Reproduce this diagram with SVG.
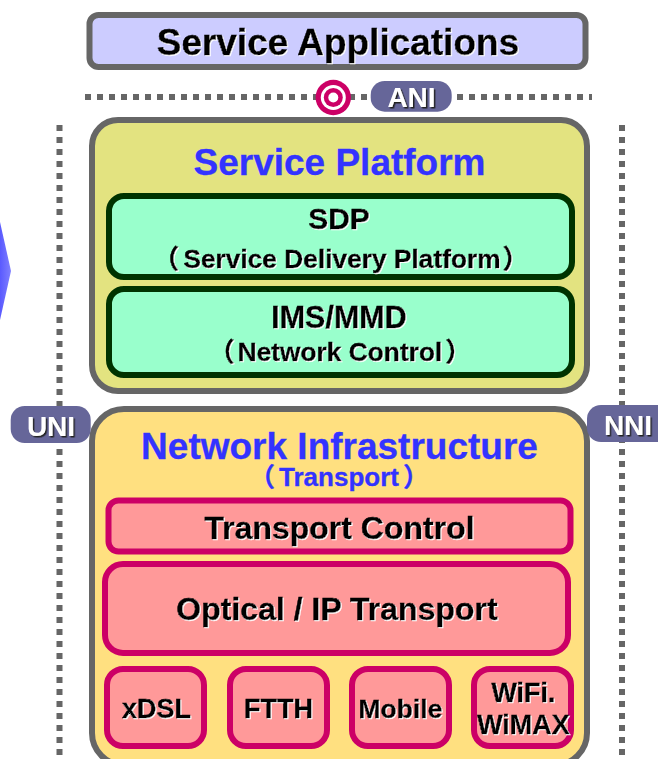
<svg xmlns="http://www.w3.org/2000/svg" width="658" height="759" viewBox="0 0 658 759">
<style>
text{font-family:"Liberation Sans","Noto Sans CJK JP",Arial,sans-serif;font-weight:700;text-anchor:middle}
.k{fill:#000;stroke:#000;stroke-width:.4;filter:url(#ws)}
.b{fill:#3333ff;stroke:#3333ff;stroke-width:.3}
.w{fill:#fff;filter:url(#ds)}
.dot{fill:none;stroke:#666;stroke-width:6;stroke-dasharray:6 6}
.gray{stroke:#666;stroke-width:6}
.green{fill:#99ffcc;stroke:#003300;stroke-width:6}
.red{fill:#ff9999;stroke:#cc0066;stroke-width:6}
.pill{fill:#666699}
</style>
<defs>
<filter id="ws" x="-5%" y="-10%" width="110%" height="120%"><feDropShadow dx="1" dy="1" stdDeviation="0.2" flood-color="#fff"/></filter>
<filter id="ds" x="-10%" y="-10%" width="120%" height="120%"><feDropShadow dx="1.500" dy="1.500" stdDeviation="0.2" flood-color="#222"/></filter>
<linearGradient id="arrow" x1="0" y1="0" x2="1" y2="0"><stop offset="0" stop-color="#5a5aff"/><stop offset="1" stop-color="#8080ff"/></linearGradient>
</defs>
<g id="connectors">
<path class="dot" d="M85 97H592"/>
<path class="dot" d="M59.500 125V759"/>
<path class="dot" d="M622 125V759"/>
</g>
<polygon id="left-arrow" points="0,222 11,271 0,320" fill="url(#arrow)"/>
<g id="service-applications">
<rect class="gray" x="89.500" y="15" width="496" height="52" rx="9" fill="#ccccff"/>
<text class="k" x="338" y="55" font-size="37">Service Applications</text>
</g>
<g id="ani-target">
<circle cx="333.300" cy="97.500" r="17.700" fill="#cc0066"/>
<circle cx="333.300" cy="97.500" r="12.500" fill="#fff"/>
<circle cx="333.300" cy="97.500" r="9.500" fill="#cc0066"/>
<circle cx="333.300" cy="97.500" r="5" fill="#fff"/>
</g>
<g id="ani">
<rect class="pill" x="370.700" y="81" width="81" height="30.700" rx="14"/>
<text class="w" x="411.500" y="107" font-size="28">ANI</text>
</g>
<g id="service-platform">
<rect class="gray" x="92" y="120" width="495" height="271" rx="26" fill="#e3e380"/>
<text class="b" x="339.500" y="175" font-size="37">Service Platform</text>
</g>
<g id="sdp">
<rect class="green" x="109" y="196" width="463" height="81" rx="15"/>
<text class="k" x="339" y="229" font-size="30">SDP</text>
<text class="k" x="345" y="268" font-size="26.300"><tspan dx="-4">（</tspan><tspan dx="4">Service Delivery Platform</tspan><tspan dx="2">）</tspan></text>
</g>
<g id="ims-mmd">
<rect class="green" x="109" y="289" width="463" height="86" rx="15"/>
<text class="k" x="339" y="328" font-size="30.500">IMS/MMD</text>
<text class="k" x="340" y="361" font-size="26.300"><tspan>（</tspan><tspan dx="3">Network Control</tspan><tspan dx="3">）</tspan></text>
</g>
<g id="network-infrastructure">
<rect class="gray" x="92" y="409" width="495" height="356" rx="32" fill="#ffe080"/>
<text class="b" x="339.500" y="459" font-size="37">Network Infrastructure</text>
<text class="b" x="339" y="486" font-size="26"><tspan>（</tspan><tspan dx="4">Transport</tspan><tspan dx="4">）</tspan></text>
</g>
<g id="uni">
<rect class="pill" x="10.700" y="406" width="80" height="37" rx="14"/>
<text class="w" x="51" y="436" font-size="28">UNI</text>
</g>
<g id="nni">
<rect class="pill" x="587" y="405" width="90" height="37" rx="14"/>
<text class="w" x="628" y="435" font-size="28">NNI</text>
</g>
<g id="transport-control">
<rect class="red" x="108.500" y="500.500" width="462" height="51" rx="10"/>
<text class="k" x="339.500" y="539" font-size="32">Transport Control</text>
</g>
<g id="optical-ip">
<rect class="red" x="105" y="564" width="463" height="89" rx="18"/>
<text class="k" x="337" y="620" font-size="32">Optical / IP Transport</text>
</g>
<g id="xdsl">
<rect class="red" x="107" y="669" width="97" height="77" rx="16"/>
<text class="k" x="156.500" y="718" font-size="27">xDSL</text>
</g>
<g id="ftth">
<rect class="red" x="230" y="669" width="97" height="77" rx="16"/>
<text class="k" x="278.500" y="718" font-size="27">FTTH</text>
</g>
<g id="mobile">
<rect class="red" x="352" y="669" width="97" height="77" rx="16"/>
<text class="k" x="400.500" y="718" font-size="26.500">Mobile</text>
</g>
<g id="wifi-wimax">
<rect class="red" x="474" y="669" width="97" height="77" rx="16"/>
<text class="k" x="523.500" y="702" font-size="27">WiFi.</text>
<text class="k" x="523.500" y="734" font-size="27">WiMAX</text>
</g>
</svg>
